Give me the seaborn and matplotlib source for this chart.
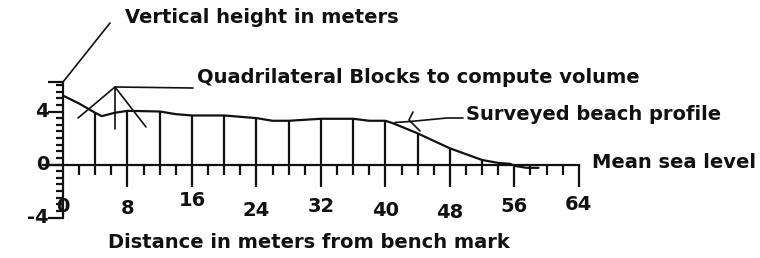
"""Beach profile survey sketch: quadrilateral blocks under a surveyed profile."""

import matplotlib
matplotlib.use("Agg")
import matplotlib.pyplot as plt
import seaborn as sns
import numpy as np
import pandas as pd

# Surveyed beach profile (distance from bench mark, height above MSL), metres
profile_dist = [0, 2, 4, 4.8, 6.4, 8, 12, 14, 16, 20, 22, 24, 26, 28, 32, 36, 38, 40, 41,
                44, 48, 52, 54, 55.5, 56, 57.5, 59]
profile_height = [5.2, 4.6, 3.9, 3.65, 3.9, 4.05, 4.0, 3.8, 3.7, 3.7, 3.6, 3.5, 3.3, 3.3, 3.45, 3.45,
                  3.3, 3.3, 3.1, 2.35, 1.22, 0.34, 0.12, 0.05, -0.1, -0.25, -0.25]

# Block divisions (vertical lines from MSL up to the profile)
block_dist = [4, 8, 12, 16, 20, 24, 28, 32, 36, 40, 44, 48, 52]

# Axis ticks
x_major = [8, 16, 24, 32, 40, 48, 56, 64]
x_labels = ["0", "8", "16", "24", "32", "40", "48", "56", "64"]
x_label_pos = [0, 8, 16, 24, 32, 40, 48, 56, 64]
y_labels = ["-4", "0", "4"]
y_label_pos = [-4, 0, 4]

# pixel layout of the original drawing
X0, SX = 63, 8.06
Y0, SY = 164.5, 13.25
W, H = 760, 258


def px(xp, yp):
    return (xp - X0) / SX, (Y0 - yp) / SY


sns.set_style("white")
plt.rcParams["font.family"] = ["DejaVu Sans"]
FS = 14

fig = plt.figure(figsize=(W / 100, H / 100), dpi=100)
ax = fig.add_axes([0, 0, 1, 1])
ax.set_xlim(-X0 / SX, (W - X0) / SX)
ax.set_ylim(-(H - Y0) / SY, Y0 / SY)

LW = 1.6
ink = "#111111"

df = pd.DataFrame({"dist": profile_dist, "height": profile_height})
sns.lineplot(data=df, x="dist", y="height", color=ink, lw=LW, ax=ax, sort=False)

tops = np.interp(block_dist, profile_dist, profile_height)
ax.vlines(block_dist, 0, tops, color=ink, lw=LW)

# axes as spines through the origin
for s in ["top", "right"]:
    ax.spines[s].set_visible(False)
ax.spines["left"].set_position(("data", 0))
ax.spines["bottom"].set_position(("data", 0))
ax.spines["left"].set_bounds(-4, 6.2)
ax.spines["bottom"].set_bounds(-2.5, 64)
for s in ["left", "bottom"]:
    ax.spines[s].set_color(ink)
    ax.spines[s].set_linewidth(LW)

ax.set_xticks(x_major)
ax.set_xticks(np.arange(2, 64, 2), minor=True)
ax.set_yticks([-4, 0, 4, 6.2])
ax.set_yticks(np.arange(-4, 6.1, 0.5), minor=True)
ax.set_xticklabels([])
ax.set_yticklabels([])
ax.tick_params(bottom=True, left=True, which="both")
ax.tick_params(axis="x", which="major", direction="out", length=16, width=LW, color=ink)
ax.tick_params(axis="x", which="minor", direction="out", length=7.5, width=LW, color=ink)
ax.tick_params(axis="y", which="major", direction="out", length=11, width=LW, color=ink)
ax.tick_params(axis="y", which="minor", direction="out", length=5, width=LW, color=ink)

# hand-placed tick labels (the drawing has them jittered)
x_label_dy = [207, 208, 201, 211, 207, 211, 213, 207, 204]
for lab, xv, yp in zip(x_labels, x_label_pos, x_label_dy):
    ax.text(xv, px(0, yp)[1], lab, ha="center", va="center", fontsize=FS, fontweight="bold", color=ink)
for lab, yv in zip(y_labels, y_label_pos):
    ax.text(px(49, 0)[0], yv, lab, ha="right", va="center", fontsize=FS, fontweight="bold", color=ink)

# annotations
txt = dict(fontsize=FS, fontweight="bold", color=ink, ha="left", va="center")
ax.text(*px(125, 18), "Vertical height in meters", **txt)
ax.text(*px(197, 78), "Quadrilateral Blocks to compute volume", **txt)
ax.text(*px(466, 115), "Surveyed beach profile", **txt)
ax.text(*px(592, 162), "Mean sea level", **txt)
ax.text(*px(108, 242), "Distance in meters from bench mark", **txt)

leaders = [
    [(63, 82), (110, 23)],
    [(193, 88), (115, 87)],
    [(78, 118), (115, 87), (146, 127)],
    [(115, 87), (115, 129)],
    [(463, 118), (447, 118), (410, 121.5), (395, 122.5)],
    [(413, 112), (409, 120), (420, 131)],
]
for seg in leaders:
    xs, ys = zip(*[px(a, b) for a, b in seg])
    ax.plot(xs, ys, color=ink, lw=1.2)

ax.set_xlabel("")
ax.set_ylabel("")
fig.savefig("out.png", dpi=100)
